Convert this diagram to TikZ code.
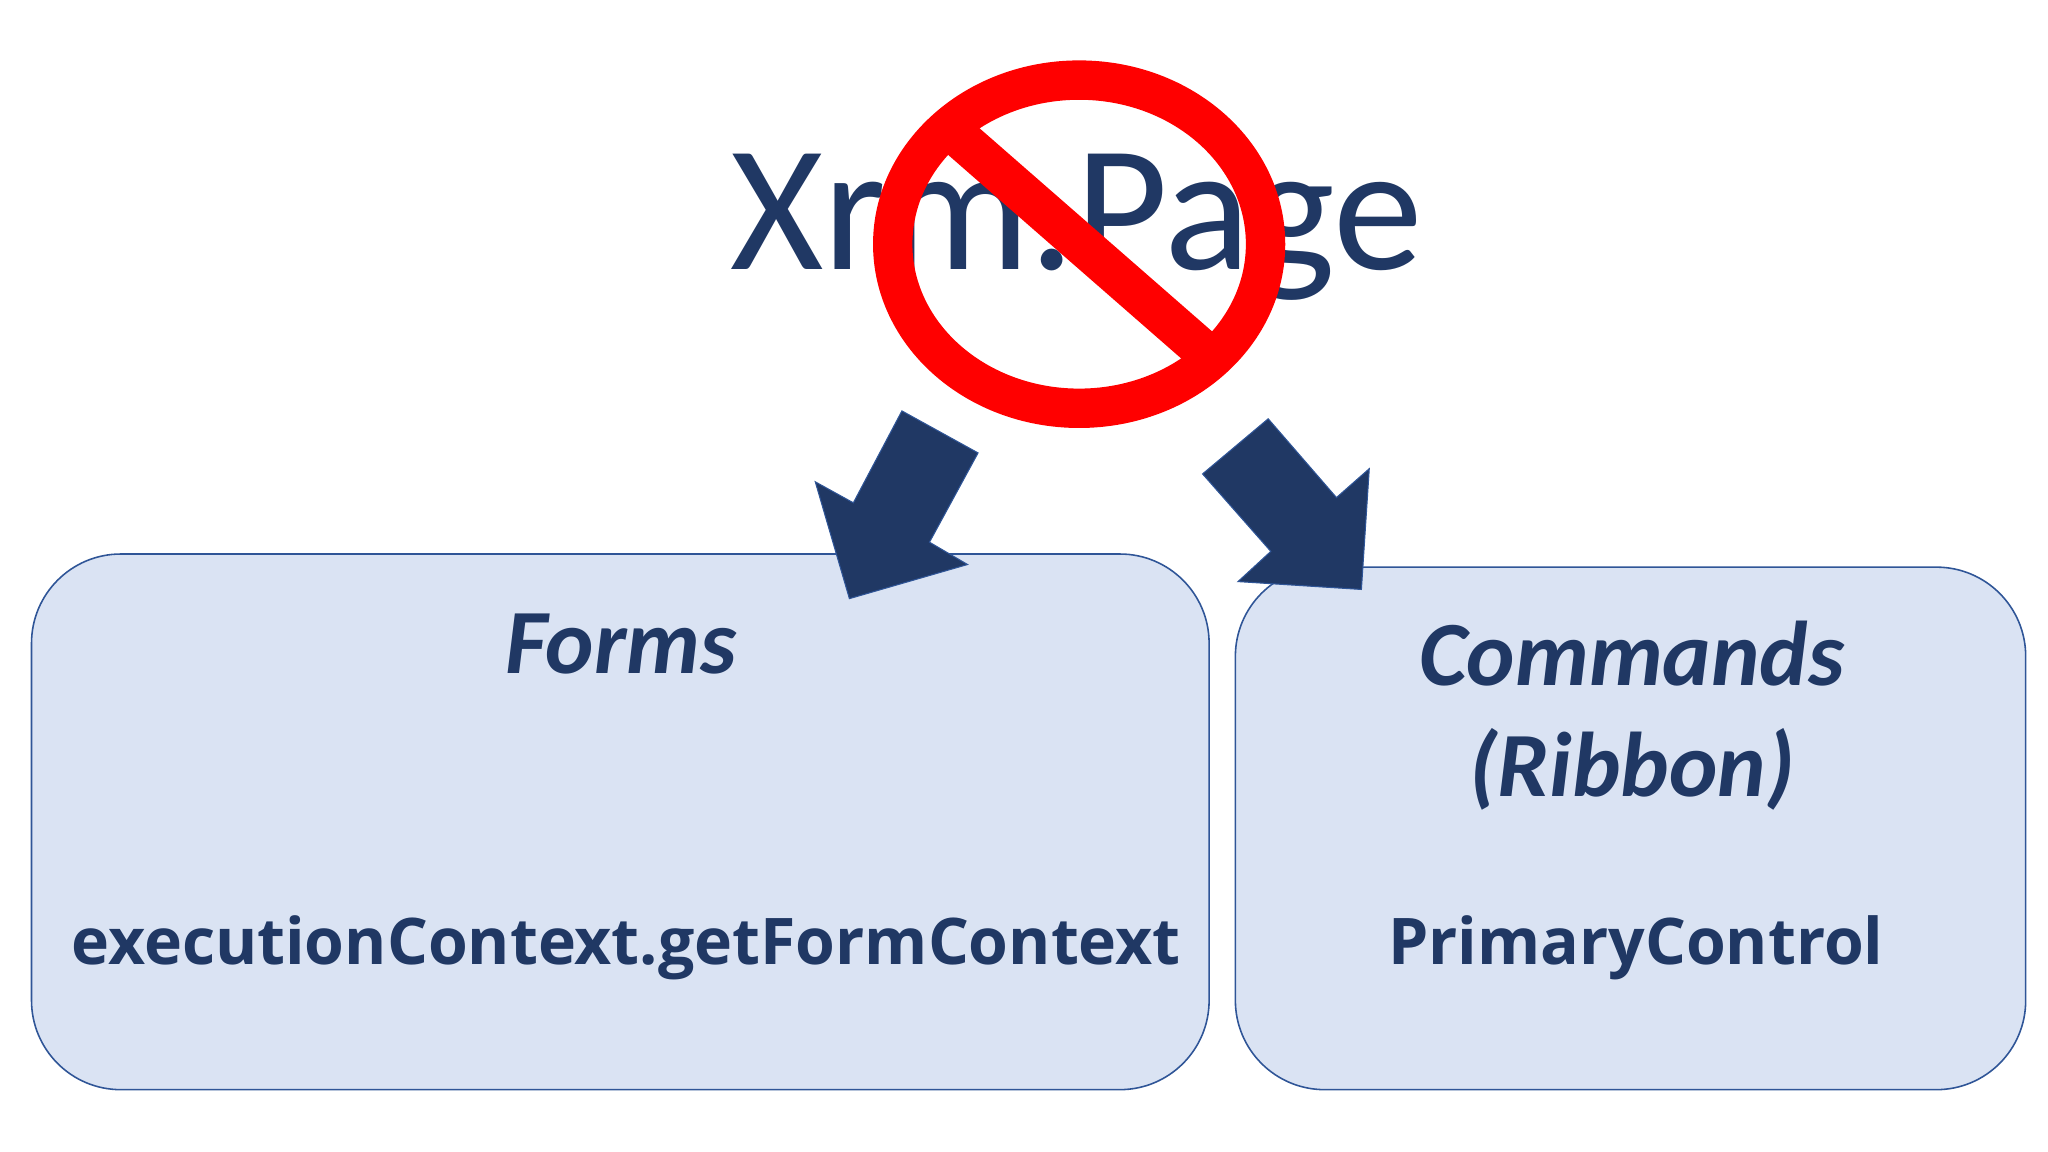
\documentclass[tikz,border=0pt]{standalone}
\usepackage{fontspec}
\setmainfont{Carlito}
\newfontfamily\osans{Open Sans}
\definecolor{navy}{HTML}{203864}
\definecolor{boxfill}{HTML}{DAE3F3}
\definecolor{boxline}{HTML}{2F5597}
\begin{document}
\begin{tikzpicture}[x=1pt,y=-1pt,
  panel/.style={draw=boxline,line width=1.2pt,fill=boxfill,rounded corners=68pt},
  heading/.style={anchor=base,text=navy,font=\fontsize{70}{84}\selectfont\bfseries\itshape},
  code/.style={anchor=base,text=navy,font=\osans\fontsize{49}{58}\selectfont\bfseries},
  bigarrow/.style={fill=navy,draw=boxline,line width=0.8pt}]
\useasboundingbox (0,0) rectangle (1560,877.5);
\fill[white] (0,0) rectangle (1560,877.5);
\node[anchor=base,text=navy,font=\fontsize{137}{150}\selectfont] (title) at (820,205) {Xrm.Page};
% prohibition sign
\fill[red,even odd rule] (822,186) ellipse [x radius=157,y radius=140] (822,186) ellipse [x radius=127,y radius=110];
\begin{scope}
\clip (822,186) ellipse [x radius=128,y radius=111];
\draw[red,line width=31pt] (700,78) -- (945,292);
\end{scope}
% boxes
\draw[panel] (24,422) rectangle (921,830);
\draw[panel] (941,432) rectangle (1543,830);
\node[heading] (forms) at (473,513) {Forms};
\node[heading] (cmd) at (1243,522) {Commands};
\node[heading] (rib) at (1243,607) {(Ribbon)};
\node[code] (ec) at (477,735) {executionContext.getFormContext};
\node[code] (pc) at (1246,735) {PrimaryControl};
% arrows
\path[bigarrow] (687,313) -- (745,345) -- (708,413) -- (737,430) -- (647,456) -- (621,367) -- (650,383) -- cycle;
\path[bigarrow] (966,319) -- (1018,379) -- (1043,357) -- (1037,449) -- (943,443) -- (968,420) -- (916,361) -- cycle;
\end{tikzpicture}
\end{document}
